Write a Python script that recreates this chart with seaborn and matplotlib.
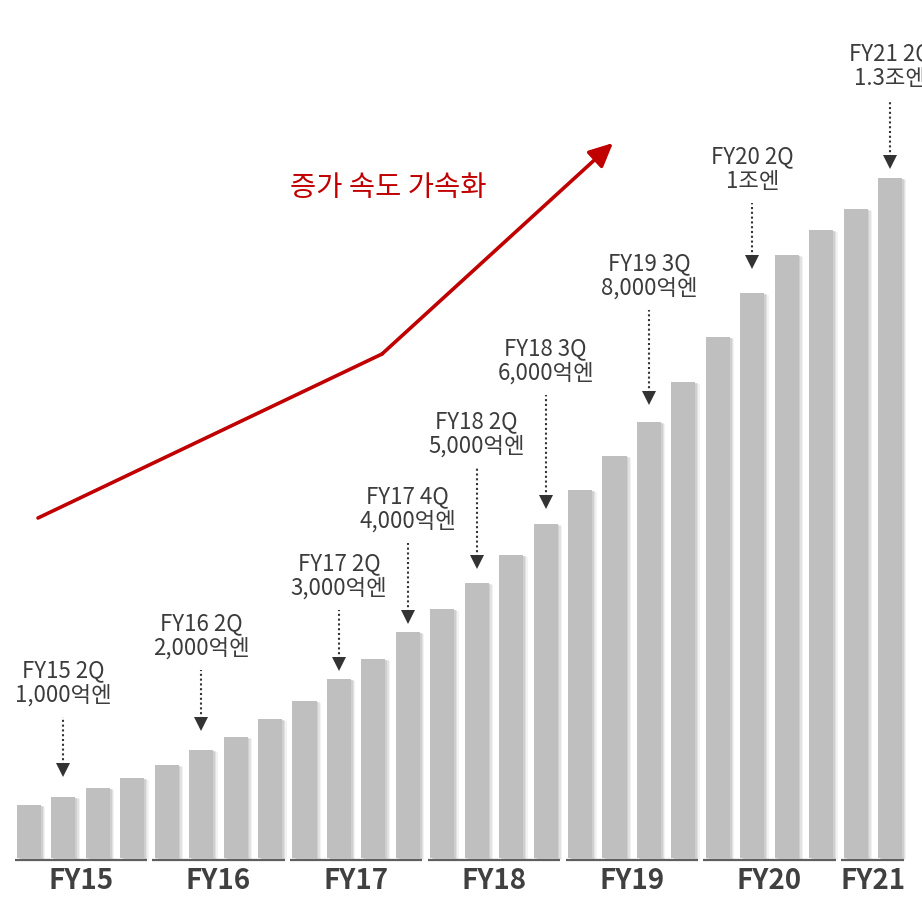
import matplotlib
matplotlib.use("Agg")
import matplotlib.pyplot as plt
import matplotlib.patheffects as pe
import seaborn as sns
import pandas as pd

# ---------------- data ----------------
fiscal_years = ["FY15", "FY16", "FY17", "FY18", "FY19", "FY20", "FY21"]
quarters_per_year = [4, 4, 4, 4, 4, 4, 2]
# bar heights (schematic, relative units)
bar_heights = [53, 61, 70, 80, 93, 108, 121, 139, 157, 179, 199, 226, 249,
               275, 303, 334, 368, 402, 436, 476, 521, 565, 603, 628, 649, 680]

annot_index = [1, 5, 9, 11, 13, 15, 18, 21, 25]
annot_period = ["FY15 2Q", "FY16 2Q", "FY17 2Q", "FY17 4Q", "FY18 2Q",
                "FY18 3Q", "FY19 3Q", "FY20 2Q", "FY21 2Q"]
annot_value = ["1,000억엔", "2,000억엔", "3,000억엔", "4,000억엔", "5,000억엔",
               "6,000억엔", "8,000억엔", "1조엔", "1.3조엔"]
trend_label = "증가 속도 가속화"

# ---------------- layout (not data) ----------------
annot_gap = [20, 19, 8, 8, 14, 15, 17, 24, 9]          # space between arrow tip and bar top
annot_len = [60, 61, 61, 81, 101, 114, 95, 66, 69]      # dotted arrow length

quarter_labels = [f"{fy} {q + 1}Q" for fy, n in zip(fiscal_years, quarters_per_year) for q in range(n)]
df = pd.DataFrame({"quarter": quarter_labels, "value": bar_heights})

W, H = 922, 897
X0, DX, BASE = 29.0, 34.44, 858.0


def px(x, y):
    """figure pixel (from top-left) -> data coords"""
    return (x - X0) / DX, BASE - y


sns.set_theme(style="white")
plt.rcParams["font.family"] = ["Noto Sans CJK KR", "DejaVu Sans"]

fig = plt.figure(figsize=(W / 100, H / 100), dpi=100)
ax = fig.add_axes([0, 0, 1, 1])

sns.barplot(data=df, x="quarter", y="value", color="#BFBFBF", saturation=1,
            width=0.70, ax=ax, order=quarter_labels)
for p in ax.patches:
    p.set_path_effects([
        pe.SimplePatchShadow(offset=(3.2, -1.2), shadow_rgbFace="#9a9a9a", alpha=0.12),
        pe.SimplePatchShadow(offset=(2.2, -0.8), shadow_rgbFace="#9a9a9a", alpha=0.18),
        pe.SimplePatchShadow(offset=(1.2, -0.4), shadow_rgbFace="#9a9a9a", alpha=0.25),
        pe.Normal()])
    p.set_edgecolor("none")

ax.set_xlim(-X0 / DX, (W - X0) / DX)
ax.set_ylim(BASE - H, BASE)
ax.axis("off")

# group underlines and labels
start = 0
for fy, n in zip(fiscal_years, quarters_per_year):
    a, b = start - 0.42, start + n - 1 + 0.42
    ax.plot([a, b], [-1.5, -1.5], color="#5f5f5f", lw=1.6, solid_capstyle="butt")
    ax.text((start + start + n - 1) / 2, BASE - 881, fy, ha="center", va="center",
            fontsize=20, fontweight="bold", color="#404040")
    start += n

# annotations
for idx, per, val, gap, ln in zip(annot_index, annot_period, annot_value, annot_gap, annot_len):
    top = bar_heights[idx]
    tip = top + gap
    head_h = 14
    ax.plot([idx, idx], [tip + head_h - 2, tip + ln], color="#333333", lw=1.5,
            linestyle=(0, (1, 1.3)), solid_capstyle="butt")
    ax.plot([idx], [tip + head_h / 2], marker="v", ms=10.5, color="#333333",
            markeredgewidth=0)
    ax.text(idx, tip + ln + 34, f"{per}\n{val}", ha="center", va="center",
            fontsize=16, color="#3c3c3c", linespacing=1.12)

# red trend arrow
red = "#C00000"
sx, sy = px(38, 518)
mx, my = px(382, 354)
ex, ey = px(613, 143)
ax.plot([sx, mx], [sy, my], color=red, lw=2.6, solid_capstyle="round")
ax.annotate("", xy=(ex, ey), xytext=(mx, my),
            arrowprops=dict(arrowstyle="-|>,head_length=0.8,head_width=0.38",
                            color=red, lw=2.6, shrinkA=0, shrinkB=0, mutation_scale=18))
tx, ty = px(388, 188)
ax.text(tx, ty, trend_label, ha="center", va="center", fontsize=20.5, color=red)

fig.savefig("out.png", dpi=100)
